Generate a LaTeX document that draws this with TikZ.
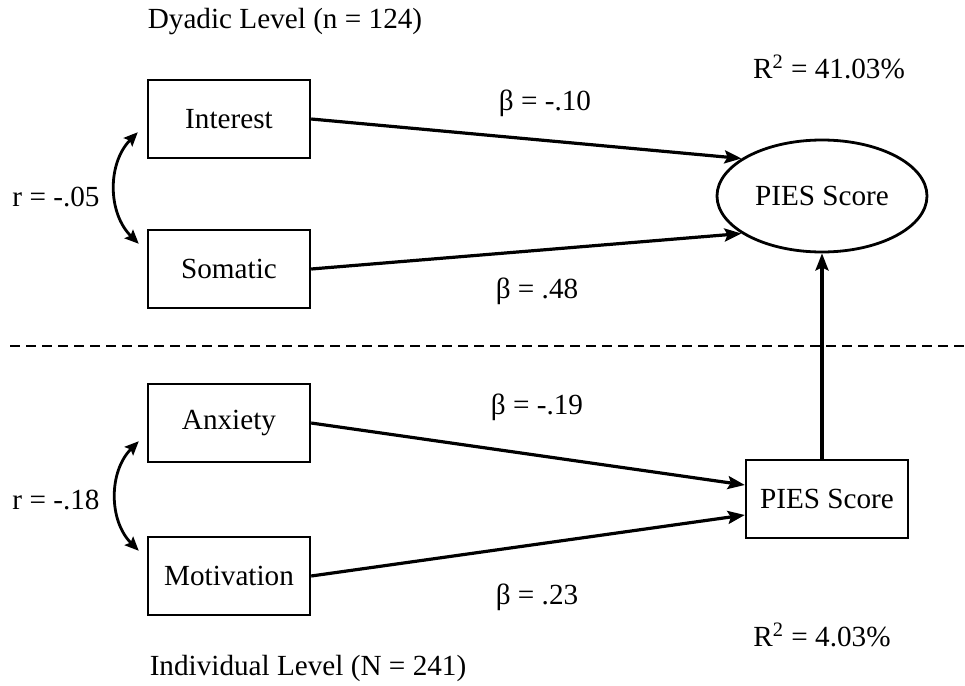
\documentclass[tikz,border=0pt]{standalone}
\usepackage{fontspec}
\setmainfont{Liberation Serif}
\usetikzlibrary{arrows.meta,shapes.geometric,positioning}

\tikzset{
  obsbox/.style={draw, line width=1.2pt, minimum width=81pt, minimum height=39pt, inner sep=2pt},
  latent/.style={draw, ellipse, line width=1.4pt, minimum width=105pt, minimum height=56pt, inner sep=1pt},
  path/.style={line width=1.6pt, -{Stealth[length=8.5pt,width=6.5pt,inset=1.5pt]}},
  corr/.style={line width=1.4pt, {Stealth[length=7pt,width=6pt,inset=1.2pt]}-{Stealth[length=7pt,width=6pt,inset=1.2pt]}},
  lbl/.style={inner sep=1pt}
}

\begin{document}
\begin{tikzpicture}[x=0.5pt, y=-0.5pt, font=\fontsize{14.6}{17}\selectfont]
  \useasboundingbox (0,0) rectangle (965,686);

  % dyadic level
  \node[lbl] (dyad) at (285,22) {Dyadic Level (n = 124)};
  \node[obsbox] (interest) at (229,119) {Interest};
  \node[obsbox] (somatic) at (229,269) {Somatic};
  \node[latent] (pies) at (822,196) {PIES Score};
  \node[lbl] (rsqa) at (829,67) {R\textsuperscript{2} = 41.03\%};

  \draw[path] (interest.east) -- (pies.155);
  \draw[path] (somatic.east) -- (pies.205);
  \node[lbl] (ba) at (545,103) {β = -.10};
  \node[lbl] (bb) at (537,291) {β = .48};

  \draw[corr] ([xshift=-4.5pt,yshift=13.5pt]interest.south west)
    to[bend right=45] ([xshift=-4pt,yshift=-7.5pt]somatic.north west);
  \node[lbl] (ra) at (56,197) {r = -.05};

  % level separator
  \coordinate (dl) at (10,346);
  \coordinate (dr) at (965,346);
  \draw[line width=1pt, dash pattern=on 5pt off 3pt] (dl) -- (dr);

  % individual level
  \node[obsbox] (anxiety) at (229,423) {Anxiety};
  \node[obsbox] (motiv) at (229,576) {Motivation};
  \node[obsbox] (piesind) at (827,499) {PIES Score};
  \node[lbl] (rsqb) at (822,635) {R\textsuperscript{2} = 4.03\%};

  \draw[path] (anxiety.east) -- ([yshift=7pt]piesind.west);
  \draw[path] (motiv.east) -- ([yshift=-8pt]piesind.west);
  \node[lbl] (bc) at (537,407) {β = -.19};
  \node[lbl] (bd) at (537,597) {β = .23};

  \draw[corr] ([xshift=-4pt,yshift=11pt]anxiety.south west)
    to[bend right=45] ([xshift=-4pt,yshift=-7.5pt]motiv.north west);
  \node[lbl] (rb) at (56,500) {r = -.18};

  \draw[path] (pies.south |- piesind.north) -- (pies.south);

  \node[lbl] (indiv) at (308,668) {Individual Level (N = 241)};
\end{tikzpicture}
\end{document}
